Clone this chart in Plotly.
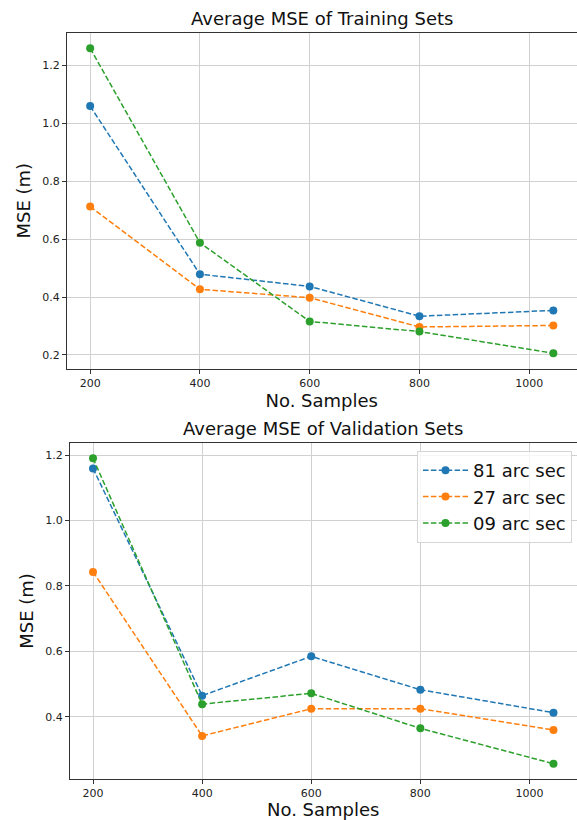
import plotly.graph_objects as go

samples = [200, 400, 600, 800, 1044]
series_names = ["81 arc sec", "27 arc sec", "09 arc sec"]
colors = ["#1f77b4", "#ff7f0e", "#2ca02c"]

train_81 = [1.060, 0.479, 0.437, 0.334, 0.354]
train_27 = [0.713, 0.427, 0.398, 0.297, 0.302]
train_09 = [1.260, 0.588, 0.316, 0.281, 0.206]

val_81 = [1.159, 0.465, 0.585, 0.483, 0.413]
val_27 = [0.843, 0.342, 0.425, 0.425, 0.360]
val_09 = [1.190, 0.439, 0.472, 0.365, 0.257]

train = [train_81, train_27, train_09]
val = [val_81, val_27, val_09]

W, H = 577, 820
FONT = "DejaVu Sans"

def rng(vals_list):
    lo = min(min(v) for v in vals_list)
    hi = max(max(v) for v in vals_list)
    m = 0.05 * (hi - lo)
    return [lo - m, hi + m]

xr = [samples[0] - 0.05 * (samples[-1] - samples[0]), samples[-1] + 0.05 * (samples[-1] - samples[0])]

fig = go.Figure()
for i in range(3):
    fig.add_trace(go.Scatter(
        x=samples, y=train[i], name=series_names[i], mode="lines+markers",
        line=dict(color=colors[i], width=1.5, dash="5.5px,2.4px"),
        marker=dict(color=colors[i], size=8),
        xaxis="x", yaxis="y", showlegend=False))
for i in range(3):
    fig.add_trace(go.Scatter(
        x=samples, y=val[i], name=series_names[i], mode="lines+markers",
        line=dict(color=colors[i], width=1.5, dash="5.5px,2.4px"),
        marker=dict(color=colors[i], size=8),
        xaxis="x2", yaxis="y2", showlegend=True))

def px_x(p):
    return p / W

def px_y(p):
    return (H - p) / H

axis_common = dict(
    showgrid=True, gridcolor="#d0d0d0", gridwidth=1,
    showline=True, linecolor="#333333", linewidth=1, mirror=True,
    ticks="outside", ticklen=4, tickwidth=0.8, tickcolor="#333333",
    tickfont=dict(family=FONT, size=11, color="#222222"),
    zeroline=False, automargin=False,
)

top_x = [px_x(67), px_x(576.5)]
bot_x = [px_x(70), px_x(576.5)]
top_y = [px_y(368.5), px_y(33)]
bot_y = [px_y(779), px_y(443)]

fig.update_layout(
    width=W, height=H,
    margin=dict(l=0, r=0, t=0, b=0, autoexpand=False),
    paper_bgcolor="white", plot_bgcolor="white",
    font=dict(family=FONT, color="#111111"),
    xaxis=dict(domain=top_x, anchor="y", range=xr, tickvals=[200, 400, 600, 800, 1000],
               title=dict(text="No. Samples", font=dict(family=FONT, size=18), standoff=4),
               **axis_common),
    yaxis=dict(domain=top_y, anchor="x", range=rng(train), tickvals=[0.2, 0.4, 0.6, 0.8, 1.0, 1.2],
               tickformat=".1f",
               title=dict(text="MSE (m)", font=dict(family=FONT, size=18), standoff=6),
               **axis_common),
    xaxis2=dict(domain=bot_x, anchor="y2", range=xr, tickvals=[200, 400, 600, 800, 1000],
                title=dict(text="No. Samples", font=dict(family=FONT, size=18), standoff=4),
                **axis_common),
    yaxis2=dict(domain=bot_y, anchor="x2", range=rng(val), tickvals=[0.4, 0.6, 0.8, 1.0, 1.2],
                tickformat=".1f",
                title=dict(text="MSE (m)", font=dict(family=FONT, size=18), standoff=6),
                **axis_common),
    legend=dict(
        x=px_x(572), y=px_y(451), xanchor="right", yanchor="top",
        bgcolor="rgba(255,255,255,0.8)", bordercolor="#d5d5d5", borderwidth=1,
        itemwidth=45,
        font=dict(family=FONT, size=18, color="#111111"),
    ),
    annotations=[
        dict(text="Average MSE of Training Sets", xref="paper", yref="paper",
             x=(top_x[0] + top_x[1]) / 2, y=top_y[1], xanchor="center", yanchor="bottom",
             yshift=2, showarrow=False, font=dict(family=FONT, size=18, color="#111111")),
        dict(text="Average MSE of Validation Sets", xref="paper", yref="paper",
             x=(bot_x[0] + bot_x[1]) / 2, y=bot_y[1], xanchor="center", yanchor="bottom",
             yshift=2, showarrow=False, font=dict(family=FONT, size=18, color="#111111")),
    ],
)

fig.write_html("out.html", config={"displayModeBar": False},
               post_script="document.body.style.margin='0';document.body.style.overflow='hidden';")
